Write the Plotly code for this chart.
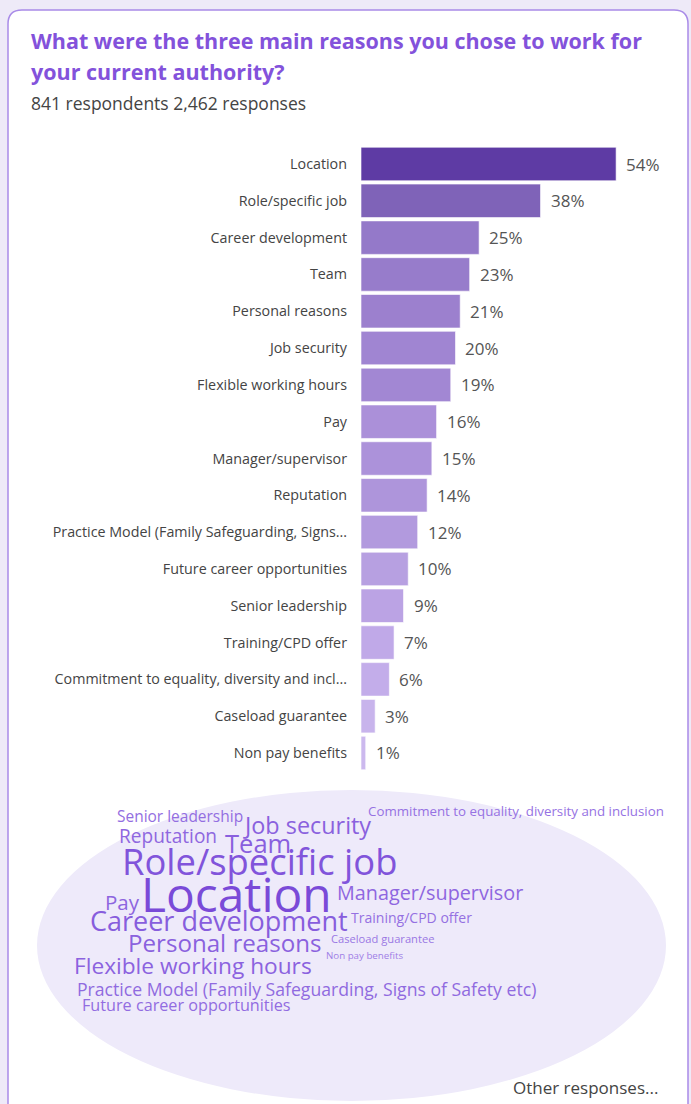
import plotly.graph_objects as go

W, H = 691, 1104

# Survey results: share of respondents choosing each reason (%)
reasons = [
    "Location", "Role/specific job", "Career development", "Team",
    "Personal reasons", "Job security", "Flexible working hours", "Pay",
    "Manager/supervisor", "Reputation",
    "Practice Model (Family Safeguarding, Signs...",
    "Future career opportunities", "Senior leadership", "Training/CPD offer",
    "Commitment to equality, diversity and incl...", "Caseload guarantee",
    "Non pay benefits",
]
shares = [54, 38, 25, 23, 21, 20, 19, 16, 15, 14, 12, 10, 9, 7, 6, 3, 1]

# Word-cloud terms (full wording) and their weights
cloud_words = [
    "Location", "Role/specific job", "Career development", "Team",
    "Personal reasons", "Job security", "Flexible working hours", "Pay",
    "Manager/supervisor", "Reputation",
    "Practice Model (Family Safeguarding, Signs of Safety etc)",
    "Future career opportunities", "Senior leadership", "Training/CPD offer",
    "Commitment to equality, diversity and inclusion", "Caseload guarantee",
    "Non pay benefits",
]
cloud_weights = shares

title_lines = ["What were the three main reasons you chose to work for",
               "your current authority?"]
subtitle = "841 respondents 2,462 responses"

bar_colors = ["#5E3BA4", "#7F63B8", "#9479C9", "#977CCB", "#9C80CE", "#A085D2",
              "#A287D3", "#AB90D9", "#AC92DA", "#AE95DB", "#B29ADE", "#B7A0E1",
              "#BBA3E4", "#C0A9E8", "#C3ADEA", "#C8B4EC", "#CCB9EE"]

FONT = "Open Sans"


def px(x):
    return x / W


def py(y):
    return 1 - y / H


fig = go.Figure()

fig.add_trace(go.Bar(
    x=shares, y=reasons, orientation="h",
    marker=dict(color=bar_colors, line=dict(color="rgba(255,255,255,0.6)", width=1)),
    width=0.91, hoverinfo="skip",
))

# Page background and card
shapes = [
    dict(type="path", xref="paper", yref="paper",
         path=(f"M {px(8)},{py(1110)} L {px(8)},{py(24)} "
               f"Q {px(8)},{py(10)} {px(22)},{py(10)} "
               f"L {px(674)},{py(10)} Q {px(688)},{py(10)} {px(688)},{py(24)} "
               f"L {px(688)},{py(1110)} Z"),
         fillcolor="white", line=dict(color="#A98BE8", width=1.5), layer="below"),
    dict(type="circle", xref="paper", yref="paper",
         x0=px(37), x1=px(666), y0=py(1101), y1=py(790),
         fillcolor="#EEEAFA", line=dict(width=0), layer="below"),
]

annotations = [
    dict(text=title_lines[0], x=px(29), y=py(40), xref="paper", yref="paper",
         xanchor="left", yanchor="middle", showarrow=False,
         font=dict(family=FONT, size=21.5, color="#8352DB", weight="bold")),
    dict(text=title_lines[1], x=px(29), y=py(71), xref="paper", yref="paper",
         xanchor="left", yanchor="middle", showarrow=False,
         font=dict(family=FONT, size=21.5, color="#8352DB", weight="bold")),
    dict(text=subtitle, x=px(29), y=py(103), xref="paper", yref="paper",
         xanchor="left", yanchor="middle", showarrow=False,
         font=dict(family=FONT, size=17.5, color="#444444")),
    dict(text="Other responses...", x=px(511), y=py(1087), xref="paper", yref="paper",
         xanchor="left", yanchor="middle", showarrow=False,
         font=dict(family=FONT, size=17, color="#444444")),
]

# Value labels just past the end of each bar
for name, v in zip(reasons, shares):
    annotations.append(dict(
        text=f"{v}%", x=v, y=name, xref="x", yref="y",
        xanchor="left", yanchor="middle", xshift=8, showarrow=False,
        font=dict(family=FONT, size=17, color="#555555"),
    ))

# Word-cloud placement (left edge, vertical centre) in page pixels
cloud_layout = {
    "Senior leadership": (116, 816),
    "Commitment to equality, diversity and inclusion": (367, 811),
    "Job security": (242, 825),
    "Reputation": (118, 836),
    "Team": (224, 843),
    "Role/specific job": (121, 861),
    "Location": (140, 893),
    "Pay": (104, 902),
    "Manager/supervisor": (336, 892),
    "Career development": (89, 920),
    "Training/CPD offer": (350, 917),
    "Personal reasons": (127, 942),
    "Caseload guarantee": (330, 938),
    "Non pay benefits": (325, 955),
    "Flexible working hours": (73, 965),
    "Practice Model (Family Safeguarding, Signs of Safety etc)": (76, 989),
    "Future career opportunities": (81, 1005),
}


def word_color(v):
    lo, hi = (0xA4, 0x86, 0xE8), (0x7A, 0x4A, 0xD8)
    t = min(v / 54, 1) ** 0.5
    return "#%02X%02X%02X" % tuple(round(a + (b - a) * t) for a, b in zip(lo, hi))


for word, wgt in zip(cloud_words, cloud_weights):
    x0, y0 = cloud_layout[word]
    annotations.append(dict(
        text=word, x=px(x0), y=py(y0), xref="paper", yref="paper",
        xanchor="left", yanchor="middle", showarrow=False, borderpad=0,
        font=dict(family=FONT, size=9 + 0.72 * wgt, color=word_color(wgt)),
    ))

fig.update_layout(
    width=W, height=H,
    margin=dict(l=0, r=0, t=0, b=0),
    paper_bgcolor="#EEEAF8", plot_bgcolor="rgba(0,0,0,0)",
    showlegend=False, bargap=0.09,
    shapes=shapes, annotations=annotations,
    xaxis=dict(domain=[px(361), px(661)], range=[0, 63.5], visible=False, fixedrange=True),
    yaxis=dict(domain=[py(771.4), py(145.6)], autorange="reversed",
               showgrid=False, zeroline=False, showline=False, ticks="",
               ticklabelstandoff=13,
               tickfont=dict(family=FONT, size=14.3, color="#444444")),
)

fig.write_html("out.html")
